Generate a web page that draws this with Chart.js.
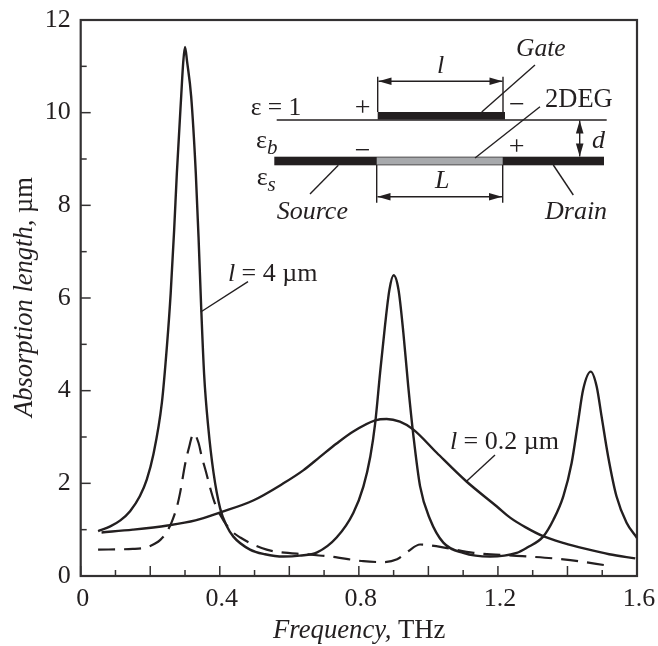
<!DOCTYPE html>
<html>
<head>
<meta charset="utf-8">
<style>html,body{margin:0;padding:0;background:#fff}canvas{display:block}</style>
<script src="https://cdn.jsdelivr.net/npm/chart.js@4"></script>
</head>
<body>
<canvas id="c" width="658" height="646"></canvas>
<script>
// Long gate (l = 4 um) – three sharp peaks
const longX = [.05,.085,.114,.142,.17,.19,.209,.2335,.248,.2588,.2688,.2766,.289,.295,.30,.306,.3177,.331,.339,.346,.355,.367,.382,.401,.42,.439,.487,.53,.583,.63,.68,.736,.784,.813,.833,.847,.861,.875,.888,.90,.914,.928,.942,.957,.976,1.005,1.043,1.1,1.177,1.254,1.283,1.33,1.36,1.388,1.412,1.43,1.445,1.467,1.484,1.498,1.517,1.541,1.57,1.6];
const longY = [.97,1.07,1.2,1.4,1.72,2.08,2.62,3.74,4.96,6.1,7.47,8.7,10.35,11.1,11.42,11.1,10.35,8.7,7.3,5.9,4.35,3.2,2.23,1.46,1.08,.85,.57,.47,.42,.44,.51,.83,1.36,1.93,2.58,3.3,4.38,5.39,6.18,6.49,6.18,5.25,4.1,3.02,1.94,1.22,.72,.5,.42,.5,.61,.85,1.22,1.72,2.44,3.3,4.02,4.41,4.09,3.45,2.58,1.72,1.15,.82];
// Short gate (l = 0.2 um) – one broad peak
const shortX = [.06,.15,.25,.33,.4,.496,.583,.64,.688,.736,.784,.847,.88,.918,.957,1.024,1.108,1.197,1.235,1.28,1.33,1.39,1.45,1.52,1.595];
const shortY = [.94,1.0,1.09,1.2,1.37,1.63,2.0,2.28,2.57,2.86,3.12,3.36,3.39,3.33,3.16,2.66,2.05,1.5,1.26,1.05,.86,.71,.59,.47,.38];
// Dashed curve
const dashX = [.05,.15,.19,.214,.229,.246,.262,.277,.286,.30,.31,.325,.339,.348,.361,.372,.384,.401,.43,.459,.535,.66,.717,.813,.87,.91,.942,.976,1.034,1.13,1.27,1.388,1.53];
const dashY = [.57,.585,.62,.7,.78,.93,1.17,1.5,1.8,2.4,2.73,3.07,2.87,2.58,2.23,1.91,1.61,1.32,1.0,.83,.57,.46,.42,.32,.30,.36,.535,.68,.63,.5,.43,.36,.21];
const xTickLabels = ['0','0.4','0.8','1.2','1.6'];
const yTickLabels = ['0','2','4','6','8','10','12'];
const xTitle = ['Frequency,',' THz'];
const yTitle = ['Absorption length,',' µm'];

const INK = '#231f20';
const SERIF = '"Liberation Serif"';
const toPts = (xs, ys) => xs.map((x, i) => ({x, y: ys[i]}));
const curve = (data, extra) => Object.assign({
  data, borderColor: INK, borderWidth: 2.4, pointRadius: 0,
  cubicInterpolationMode: 'monotone', fill: false
}, extra || {});

function line(ctx, x1, y1, x2, y2, w) {
  ctx.lineWidth = w || 1.4;
  ctx.beginPath(); ctx.moveTo(x1, y1); ctx.lineTo(x2, y2); ctx.stroke();
}
function arrowHead(ctx, x, y, dx, dy) {
  const L = 13, W = 3.8;
  ctx.beginPath();
  ctx.moveTo(x, y);
  ctx.lineTo(x + dx * L - dy * W, y + dy * L - dx * W);
  ctx.lineTo(x + dx * L + dy * W, y + dy * L + dx * W);
  ctx.closePath(); ctx.fill();
}
function dim(ctx, x1, y1, x2, y2) {
  const n = Math.hypot(x2 - x1, y2 - y1), dx = (x2 - x1) / n, dy = (y2 - y1) / n;
  line(ctx, x1, y1, x2, y2, 1.4);
  arrowHead(ctx, x1, y1, dx, dy);
  arrowHead(ctx, x2, y2, -dx, -dy);
}
function text(ctx, s, x, y, style, size) {
  ctx.font = (style ? style + ' ' : '') + (size || 24) + 'px ' + SERIF;
  ctx.fillText(s, x, y);
}
function mixed(ctx, parts, x, y, size) {
  ctx.font = 'italic ' + size + 'px ' + SERIF;
  const a = ctx.measureText(parts[0]).width;
  ctx.fillText(parts[0], x, y);
  ctx.font = size + 'px ' + SERIF;
  ctx.fillText(parts[1], x + a, y);
}
function noScalePadding(s) {
  s.paddingTop = s.paddingBottom = s.paddingLeft = s.paddingRight = 0;
}

const decor = {
  id: 'decor',
  beforeDatasetsDraw(chart) {
    const {ctx, chartArea: a, scales: {x, y}} = chart;
    ctx.save();
    ctx.strokeStyle = '#333132';
    ctx.lineCap = 'butt';
    x.ticks.forEach((t, i) => {
      const px = x.getPixelForTick(i);
      const major = Math.round(t.value * 10) % 2 === 0;
      line(ctx, px, a.bottom, px, a.bottom - (major ? 10 : 6), 1.5);
    });
    y.ticks.forEach((t, i) => {
      const py = y.getPixelForTick(i);
      line(ctx, a.left, py, a.left + (t.value % 2 === 0 ? 10 : 6), py, 1.5);
    });
    ctx.lineWidth = 2.2;
    ctx.strokeRect(a.left, a.top, a.right - a.left, a.bottom - a.top);
    ctx.restore();
  },
  afterDatasetsDraw(chart) {
    const {ctx} = chart;
    ctx.save();
    ctx.fillStyle = INK; ctx.strokeStyle = INK;
    ctx.textBaseline = 'alphabetic'; ctx.textAlign = 'left';

    // axis titles
    mixed(ctx, xTitle, 273, 638, 26.7);
    ctx.save(); ctx.translate(32, 417); ctx.rotate(-Math.PI / 2);
    mixed(ctx, yTitle, 0, 0, 26.5); ctx.restore();

    // curve annotations
    line(ctx, 200.7, 312, 248, 281.7);
    line(ctx, 466, 481.7, 495, 455);
    ctx.font = 'italic 26px ' + SERIF; ctx.fillText('l', 228, 281);
    ctx.font = '26px ' + SERIF; ctx.fillText(' = 4 µm', 235, 281);
    ctx.font = 'italic 26px ' + SERIF; ctx.fillText('l', 450, 449);
    ctx.font = '26px ' + SERIF; ctx.fillText(' = 0.2 µm', 457, 449);

    // device sketch
    line(ctx, 276.7, 120, 606.7, 120, 1.4);
    ctx.fillRect(377.7, 112, 127.3, 7.5);
    ctx.fillRect(274.3, 156.7, 329.7, 8.6);
    ctx.fillStyle = '#a7a9ac'; ctx.fillRect(376.7, 157.4, 126, 7.2); ctx.fillStyle = INK;
    line(ctx, 377.7, 76.7, 377.7, 112); line(ctx, 503, 76.7, 503, 112);
    line(ctx, 376.7, 165, 376.7, 202.7); line(ctx, 502.7, 165, 502.7, 202.7);
    dim(ctx, 378.5, 81.3, 502.5, 81.3);
    dim(ctx, 377.5, 196.7, 502, 196.7);
    dim(ctx, 579.7, 120.5, 579.7, 156.5);
    line(ctx, 481.7, 112, 535, 65);
    line(ctx, 475, 158, 540, 106.7);
    line(ctx, 338.3, 165.3, 310, 194);
    line(ctx, 553.3, 165, 573.3, 195);
    text(ctx, 'Gate', 516, 56, 'italic', 25.5);
    text(ctx, 'l', 437, 73, 'italic', 26);
    text(ctx, 'ε = 1', 250.7, 115, '', 25.5);
    text(ctx, '2DEG', 545, 107, '', 26.5);
    text(ctx, 'ε', 256, 148, '', 26); text(ctx, 'b', 267, 154, 'italic', 21);
    text(ctx, 'ε', 256.7, 185, '', 26); text(ctx, 's', 267.5, 191, 'italic', 21);
    text(ctx, 'd', 592, 148, 'italic', 26);
    text(ctx, 'L', 435, 188, 'italic', 26);
    text(ctx, 'Source', 276.7, 219, 'italic', 26);
    text(ctx, 'Drain', 545, 219, 'italic', 26);
    ctx.textAlign = 'center';
    text(ctx, '+', 362.7, 116, '', 28);
    text(ctx, '−', 517, 113, '', 28);
    text(ctx, '−', 362.7, 159, '', 28);
    text(ctx, '+', 516.7, 155, '', 28);
    ctx.restore();
  }
};

new Chart(document.getElementById('c'), {
  type: 'line',
  data: {
    datasets: [
      curve(toPts(longX, longY)),
      curve(toPts(shortX, shortY)),
      curve(toPts(dashX, dashY), {borderDash: [17, 9], borderWidth: 2.2})
    ]
  },
  plugins: [decor],
  options: {
    responsive: false, animation: false, events: [],
    layout: {autoPadding: false, padding: {top: 20, right: 21, left: 0, bottom: 0}},
    plugins: {legend: {display: false}, tooltip: {enabled: false}},
    scales: {
      x: {
        type: 'linear', min: 0, max: 1.6,
        afterFit(s) { s.height = 70; noScalePadding(s); },
        grid: {display: false},
        border: {display: false},
        ticks: {
          stepSize: .1, autoSkip: false, maxRotation: 0, color: INK, padding: 0, labelOffset: 2,
          font: {family: SERIF, size: 26},
          callback(v) {
            const s = String(Math.round(v * 10) / 10);
            return xTickLabels.includes(s) ? s : '';
          }
        }
      },
      y: {
        min: 0, max: 12,
        afterFit(s) { s.width = 80.7; noScalePadding(s); },
        grid: {display: false},
        border: {display: false},
        ticks: {
          stepSize: 1, autoSkip: false, color: INK, padding: 2,
          font: {family: SERIF, size: 26},
          callback(v) { return yTickLabels.includes(String(v)) ? String(v) : ''; }
        }
      }
    }
  }
});
</script>
</body>
</html>
